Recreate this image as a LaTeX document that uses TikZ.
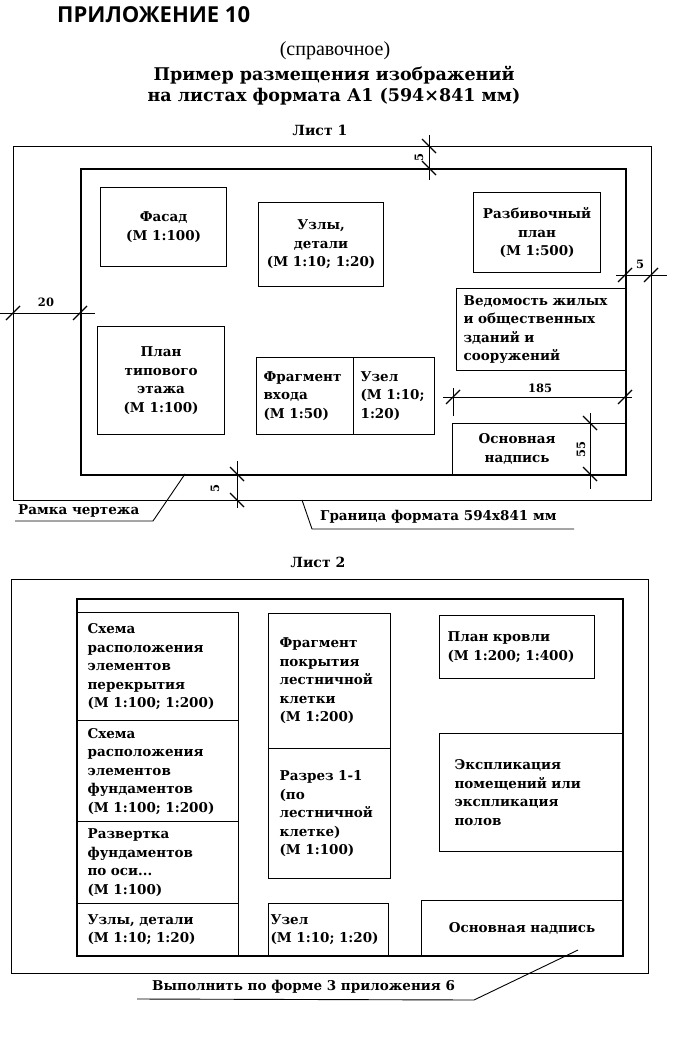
\documentclass[tikz,border=0pt]{standalone}
\usepackage{fontspec}
\setmainfont{DejaVu Serif}
\newfontfamily\apxfont{Open Sans}
\newfontfamily\tmsfont{Liberation Serif}
\usepackage{tikz}
\usetikzlibrary{positioning,calc}

\newcommand{\dimtickh}[1]{\draw[tickln] ([shift={(-7,7)}]#1) -- ([shift={(7,-7)}]#1);}
\newcommand{\dimtickv}[1]{\draw[tickln] ([shift={(-7,-7)}]#1) -- ([shift={(7,7)}]#1);}

\begin{document}
\begin{tikzpicture}[x=1pt, y=-1pt,
  sheet/.style={draw, line width=0.9pt, anchor=north west, inner sep=0pt},
  frame/.style={draw, line width=2.4pt, anchor=north west, inner sep=0pt},
  box/.style={draw, line width=1.2pt, anchor=north west, inner sep=0pt,
    font=\bfseries\fontsize{13.5}{18.5}\selectfont},
  cbox/.style={box, align=center},
  lbox/.style={box, align=left},
  lbl/.style={font=\bfseries\fontsize{13.5}{18.5}\selectfont, inner sep=0pt},
  dimtxt/.style={font=\bfseries\fontsize{11.5}{13}\selectfont, inner sep=0pt},
  dimln/.style={line width=0.8pt},
  tickln/.style={line width=1.3pt},
  lead/.style={line width=0.9pt},
]
\useasboundingbox (0,0) rectangle (691,1048);

% headings
\node[anchor=west, inner sep=0pt, font=\apxfont\bfseries\fontsize{22}{26}\selectfont] (apx) at (57,15) {ПРИЛОЖЕНИЕ 10};
\node[inner sep=0pt, font=\tmsfont\fontsize{20}{22}\selectfont] (hdr0) at (335,51) {(справочное)};
\node[inner sep=0pt, font=\bfseries\fontsize{17.5}{21}\selectfont] (hdr1) at (334,75) {Пример размещения изображений};
\node[inner sep=0pt, font=\bfseries\fontsize{17.5}{21}\selectfont] (hdr2) at (334,97) {на листах формата А1 (594×841 мм)};

% sheet 1
\node[lbl, font=\bfseries\fontsize{14}{16}\selectfont] (title1) at (320,130) {Лист 1};
\node[sheet, minimum width=638pt, minimum height=354pt] (s1) at (13,146) {};
\node[frame, minimum width=545pt, minimum height=306pt] (f1) at (80,168) {};

\node[cbox, minimum width=126pt, minimum height=79pt] (facade) at (100,187) {Фасад\\(М 1:100)};
\node[cbox, minimum width=125pt, minimum height=84pt] (nodes1) at (258,202) {Узлы,\\детали\\(М 1:10; 1:20)};
\node[cbox, minimum width=127pt, minimum height=80pt] (stakeout) at (473,192) {Разбивочный\\план\\(М 1:500)};
\node[lbox, minimum width=169pt, minimum height=82pt, text width=155pt] (register) at (456,288) {Ведомость жилых\\и общественных\\зданий и\\сооружений};
\node[cbox, minimum width=127pt, minimum height=108pt] (floor) at (97,326) {План\\типового\\этажа\\(М 1:100)};
\node[lbox, minimum width=97pt, minimum height=77pt, text width=83pt] (entry) at (256,357) {Фрагмент\\входа\\(М 1:50)};
\node[lbox, minimum width=81pt, minimum height=77pt, text width=67pt] (joint1) at (353,357) {Узел\\(М 1:10;\\1:20)};
\node[box, minimum width=173pt, minimum height=51pt] (stamp1) at (452,423) {};
\node[lbl, align=center] (stamp1txt) at ([xshift=-22pt]stamp1.center) {Основная\\надпись};

% dimensions
\coordinate (t5a) at (429,135); \coordinate (t5b) at (429,180);
\coordinate (t5o) at (429,146); \coordinate (t5i) at (429,168);
\draw[dimln] (t5a) -- (t5b);
\dimtickv{t5o} \dimtickv{t5i}
\node[dimtxt, rotate=90] (t5txt) at (419,158) {5};

\coordinate (l20a) at (0,313); \coordinate (l20b) at (95,313);
\coordinate (l20o) at (13,313); \coordinate (l20i) at (80,313);
\draw[dimln] (l20a) -- (l20b);
\dimtickh{l20o} \dimtickh{l20i}
\node[dimtxt] (l20txt) at (46,302) {20};

\coordinate (r5a) at (616,275); \coordinate (r5b) at (667,275);
\coordinate (r5i) at (625,275); \coordinate (r5o) at (651,275);
\draw[dimln] (r5a) -- (r5b);
\dimtickh{r5i} \dimtickh{r5o}
\node[dimtxt] (r5txt) at (640,264) {5};

\coordinate (b5a) at (237,461); \coordinate (b5b) at (237,508);
\coordinate (b5i) at (237,474); \coordinate (b5o) at (237,500);
\draw[dimln] (b5a) -- (b5b);
\dimtickv{b5i} \dimtickv{b5o}
\node[dimtxt, rotate=90] (b5txt) at (215,488) {5};

\coordinate (w185a) at (443,397); \coordinate (w185b) at (632,397);
\coordinate (w185l) at (453,397); \coordinate (w185r) at (625,397);
\coordinate (ext1) at (453,388); \coordinate (ext2) at (453,416);
\draw[dimln] (w185a) -- (w185b);
\draw[dimln] (ext1) -- (ext2);
\dimtickh{w185l} \dimtickh{w185r}
\node[dimtxt] (w185txt) at (540,388) {185};

\coordinate (h55a) at (590,413); \coordinate (h55b) at (590,489);
\coordinate (h55t) at (590,423); \coordinate (h55d) at (590,474);
\draw[dimln] (h55a) -- (h55b);
\dimtickv{h55t} \dimtickv{h55d}
\node[dimtxt, rotate=90] (h55txt) at (581,449) {55};

% leaders
\node[lbl, anchor=west] (frametxt) at (18,511) {Рамка чертежа};
\coordinate (fr1) at (15,521); \coordinate (fr2) at (153,521); \coordinate (fr3) at (185,474);
\draw[lead] (fr1) -- (fr2) -- (fr3);
\node[lbl, anchor=west] (bordertxt) at (320,517) {Граница формата 594x841 мм};
\coordinate (bd1) at (302,500); \coordinate (bd2) at (312,529); \coordinate (bd3) at (574,529);
\draw[lead] (bd1) -- (bd2) -- (bd3);

% sheet 2
\node[lbl, font=\bfseries\fontsize{14}{16}\selectfont] (title2) at (318,562) {Лист 2};
\node[sheet, minimum width=637pt, minimum height=394pt] (s2) at (11,579) {};
\node[frame, minimum width=546pt, minimum height=357pt] (f2) at (76,598) {};

\node[lbox, minimum width=162pt, minimum height=108pt, text width=140pt] (slab) at (76,612) {Схема\\расположения\\элементов\\перекрытия\\(М 1:100; 1:200)};
\node[lbox, minimum width=162pt, minimum height=101pt, text width=140pt] (found) at (76,720) {Схема\\расположения\\элементов\\фундаментов\\(М 1:100; 1:200)};
\node[lbox, minimum width=162pt, minimum height=82pt, text width=140pt] (unfold) at (76,821) {Развертка\\фундаментов\\по оси...\\(М 1:100)};
\node[lbox, minimum width=162pt, minimum height=52pt, text width=140pt] (nodes2) at (76,903) {Узлы, детали\\(М 1:10; 1:20)};
\node[lbox, minimum width=122pt, minimum height=135pt, text width=100pt] (roofpart) at (268,613) {Фрагмент\\покрытия\\лестничной\\клетки\\(М 1:200)};
\node[lbox, minimum width=122pt, minimum height=130pt, text width=100pt] (section) at (268,748) {Разрез 1-1\\(по\\лестничной\\клетке)\\(М 1:100)};
\node[lbox, minimum width=120pt, minimum height=52pt, text width=116pt] (joint2) at (268,903) {Узел\\(М 1:10; 1:20)};
\node[lbox, minimum width=155pt, minimum height=63pt, text width=139pt] (roof) at (439,615) {План кровли\\(М 1:200; 1:400)};
\node[lbox, minimum width=183pt, minimum height=118pt, text width=153pt] (expl) at (439,733) {Экспликация\\помещений или\\экспликация\\полов};
\node[cbox, minimum width=201pt, minimum height=55pt] (stamp2) at (421,900) {Основная надпись};

\node[lbl, anchor=west] (formtxt) at (152,987) {Выполнить по форме 3 приложения 6};
\coordinate (fm1) at (137,999); \coordinate (fm2) at (474,1000); \coordinate (fm3) at (578,950);
\draw[lead] (fm1) -- (fm2) -- (fm3);
\end{tikzpicture}
\end{document}
